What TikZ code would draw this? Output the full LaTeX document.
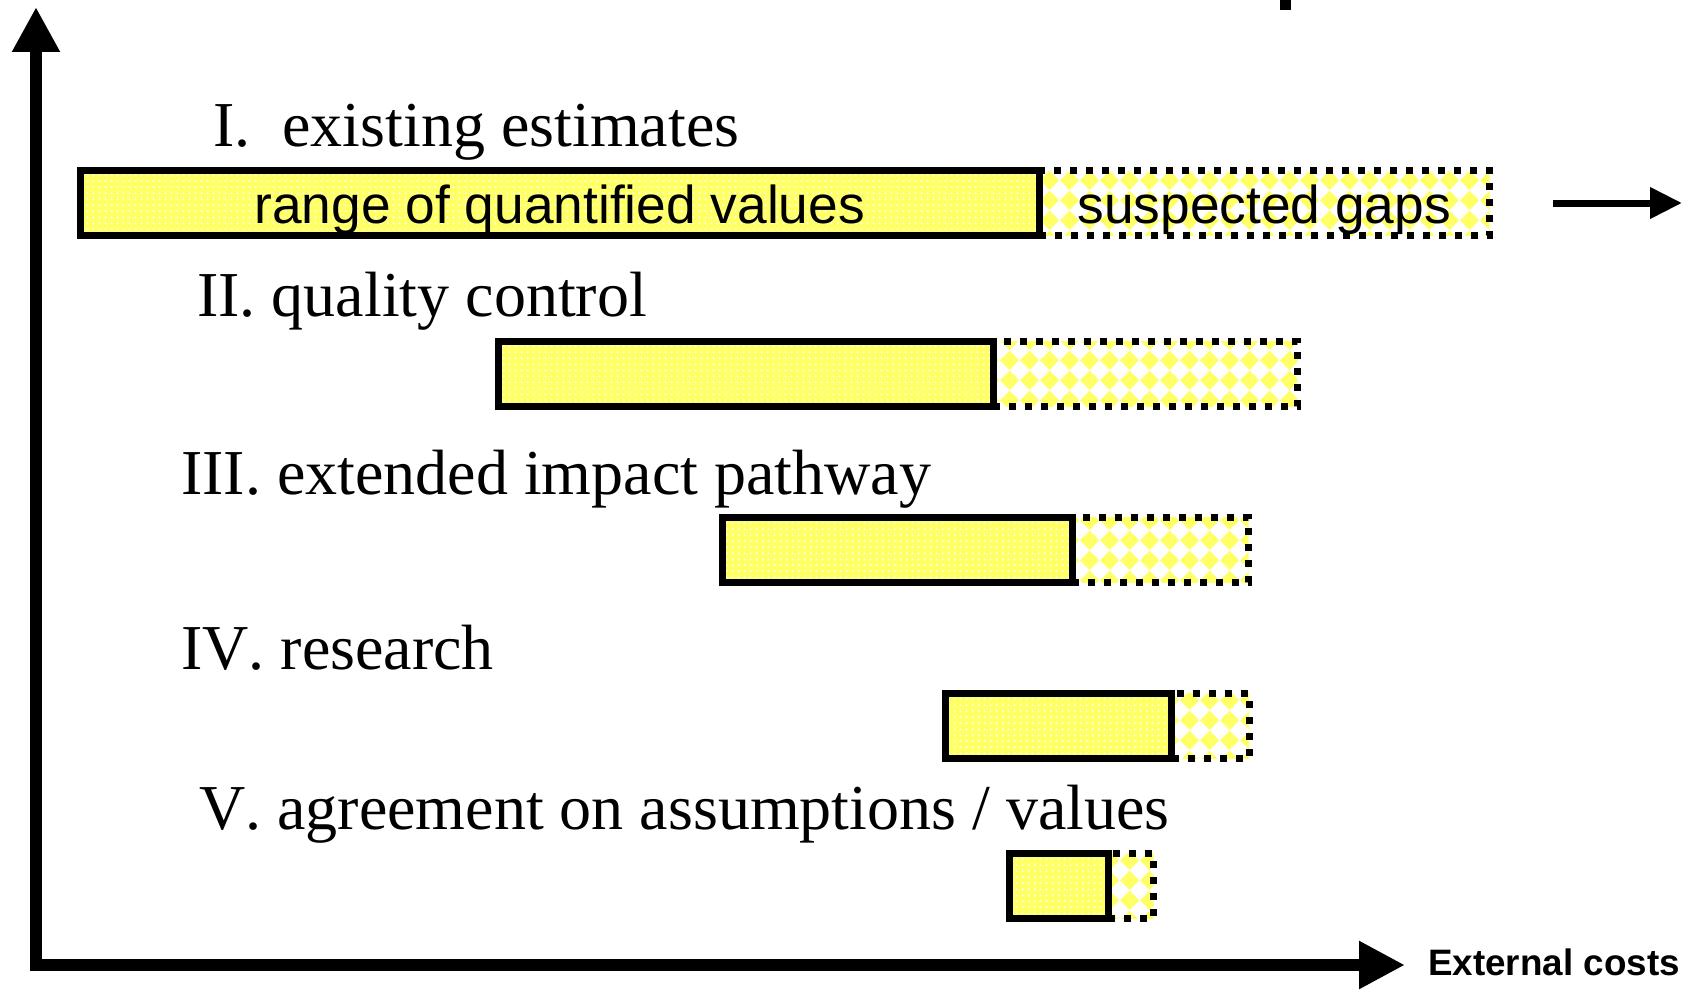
\documentclass[tikz,border=0pt]{standalone}
\usepackage{fontspec}
\setmainfont{Liberation Serif}[Kerning=Off]
\newfontfamily\arialf{Liberation Sans}[Kerning=Off]
\usetikzlibrary{arrows.meta,patterns.meta,calc}
\definecolor{barYellow}{HTML}{FFFF66}
\tikzdeclarepattern{
  name=whitedots,
  type=uncolored,
  bounding box={(0pt,0pt) and (5.7pt,5.7pt)},
  tile size={(5.7pt,5.7pt)},
  code={\fill (2.85pt,2.85pt) circle (1.05pt);}
}
\tikzdeclarepattern{
  name=ydiamonds,
  type=uncolored,
  bounding box={(0pt,0pt) and (20pt,20pt)},
  tile size={(20pt,20pt)},
  code={\fill (10pt,0pt) -- (20pt,10pt) -- (10pt,20pt) -- (0pt,10pt) -- cycle;}
}
\tikzset{
  solidbar/.style={draw, line width=7pt, preaction={fill=barYellow}, pattern=whitedots, pattern color=white, inner sep=0pt, outer sep=0pt, minimum height=65pt, anchor=east},
  gapbar/.style={draw, line width=7pt, dash pattern=on 7pt off 9pt, pattern=ydiamonds, pattern color=barYellow, inner sep=0pt, outer sep=0pt, minimum height=65pt, anchor=west},
  title/.style={anchor=base west, inner sep=0pt, font=\fontsize{64}{70}\selectfont},
  bartext/.style={anchor=base, inner sep=0pt, font=\arialf\fontsize{53.3}{60}\selectfont},
  axislabel/.style={anchor=base west, inner sep=0pt, font=\arialf\bfseries\fontsize{36.8}{44}\selectfont},
  axis/.style={line width=12pt, line join=miter},
}
\begin{document}
\begin{tikzpicture}[x=1pt,y=-1pt]
\useasboundingbox (0,0) rectangle (1692,990);
% small cut-off mark at the top
\fill (1280,0) rectangle (1291,10);
% axes
\coordinate (ytip) at (36,7);
\coordinate (O) at (36,965);
\coordinate (xtip) at (1405,965);
\draw[axis, {Triangle[length=45pt,width=45pt]}-{Triangle[length=46pt,width=45pt]}] (ytip) -- (O) -- (xtip);
\node[axislabel] (xl) at (1428,975) {External costs};
% bar I
\node[gapbar, minimum width=450.5pt] (g1) at (1039,203) {};
\node[solidbar, minimum width=958.5pt] (s1) at (g1.west) {};
\node[bartext] (b1) at ($(s1.center)+(0,20.5)$) {range of quantified values};
\node[bartext] (b2) at ($(g1.center)+(0,20.5)$) {suspected gaps};
\coordinate (ra1) at (1553,203);
\coordinate (ra2) at (1682,203);
\draw[line width=7pt, -{Triangle[length=32pt,width=30pt]}] (ra1) -- (ra2);
% bar II
\node[gapbar, minimum width=304.5pt] (g2) at (993,373.5) {};
\node[solidbar, minimum width=494.5pt] (s2) at (g2.west) {};
% bar III
\node[gapbar, minimum width=176.5pt] (g3) at (1072,550) {};
\node[solidbar, minimum width=350pt] (s3) at (g3.west) {};
% bar IV
\node[gapbar, minimum width=77.5pt] (g4) at (1171.5,726) {};
\node[solidbar, minimum width=226pt] (s4) at (g4.west) {};
% bar V
\node[gapbar, minimum width=45.5pt] (g5) at (1108,886) {};
\node[solidbar, minimum width=98.5pt] (s5) at (g5.west) {};
% titles
\node[title] (t1) at (213,146.7) {I.\ \ existing estimates};
\node[title] (t2) at (197,316.7) {II. quality control};
\node[title] (t3) at (181,494) {III. extended impact pathway};
\node[title] (t4) at (181,669) {IV. research};
\node[title] (t5) at (199,829) {V. agreement on assumptions / values};
\end{tikzpicture}
\end{document}
